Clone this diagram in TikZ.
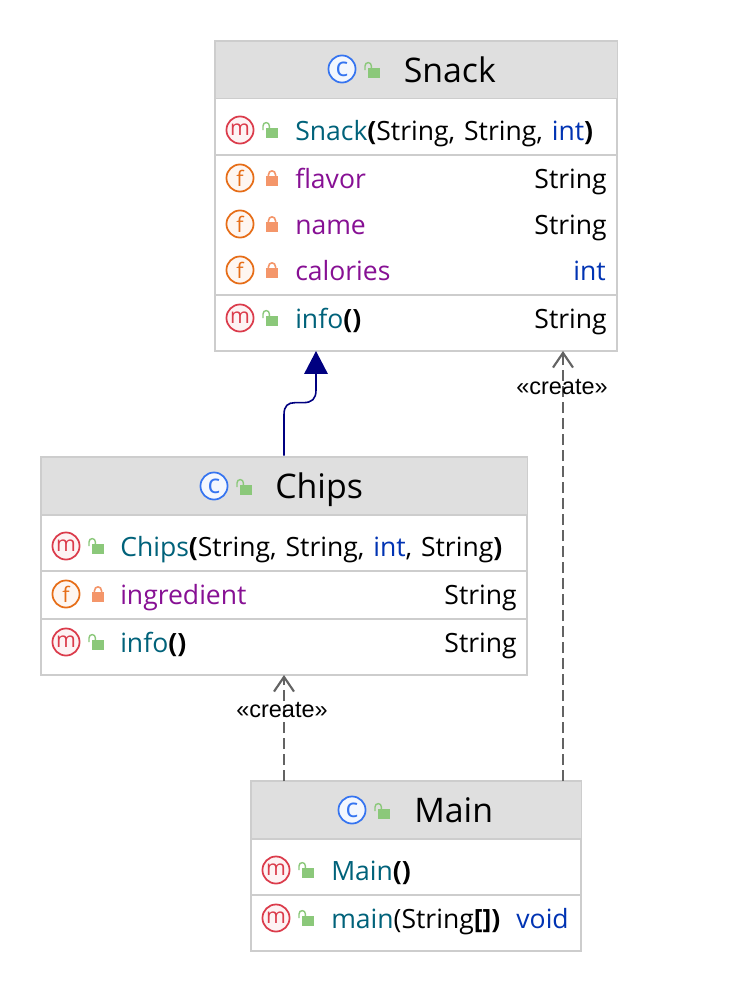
\documentclass[tikz,border=0pt]{standalone}
\usepackage{fontspec}
\setmainfont{Open Sans}
\newfontfamily\arialfont{Liberation Sans}
\usetikzlibrary{arrows.meta}
\definecolor{hdr}{HTML}{DFDFDF}
\definecolor{edgec}{HTML}{CDCDCD}
\definecolor{teal}{HTML}{00627A}
\definecolor{purp}{HTML}{871094}
\definecolor{kw}{HTML}{0033B3}
\definecolor{navy}{HTML}{000080}
\definecolor{grayl}{HTML}{636363}
\definecolor{cblue}{HTML}{3574F0}
\definecolor{mred}{HTML}{DB3B4B}
\definecolor{forange}{HTML}{E66D17}
\definecolor{lockg}{HTML}{8BC87A}
\definecolor{locko}{HTML}{F4966A}
\newcommand{\cs}{\hspace{1.5pt}}
\tikzset{
  classbox/.style={draw=edgec,line width=1.1pt,fill=white,minimum width=#1,inner sep=0pt,outer sep=0pt},
  sepline/.style={draw=edgec,line width=1.1pt},
  title/.style={anchor=base west,inner sep=0pt,font=\fontsize{25.4pt}{26pt}\selectfont},
  body/.style={anchor=base west,inner sep=0pt,font=\fontsize{19.9pt}{20pt}\selectfont},
  bodyr/.style={anchor=base east,inner sep=0pt,font=\fontsize{19.9pt}{20pt}\selectfont},
  iconc/.style={circle,draw=#1,fill=#1!6,line width=1.3pt,minimum size=20.3pt,inner sep=0pt,text=#1,font=\fontsize{16pt}{16pt}\selectfont},
  iconclass/.style={iconc=cblue,font=\fontsize{20pt}{20pt}\selectfont},
  inherit/.style={draw=navy,line width=1.2pt,-{Triangle[width=17.6pt,length=17.2pt,fill=navy]}},
  creates/.style={draw=grayl,line width=1.7pt,dash pattern=on 8.25pt off 3.75pt,-{Straight Barb[width=15pt,length=11pt,line width=1.6pt]}},
  stereo/.style={inner sep=0pt,text=black,font=\arialfont\fontsize{17.6pt}{18pt}\selectfont},
}
\newcommand{\lockopen}[2]{%
  \fill[lockg] (#1-4,#2-2) rectangle (#1+8,#2+8);
  \draw[lockg,line width=1.05pt] (#1-7,#2+0) -- (#1-7,#2-4) .. controls (#1-7,#2-8.5) and (#1-0.6,#2-8.5) .. (#1-0.6,#2-4) -- (#1-0.6,#2-2);
}
\newcommand{\lockshut}[2]{%
  \fill[locko] (#1-6,#2-2) rectangle (#1+6,#2+8);
  \draw[locko,line width=1.2pt] (#1-3.6,#2-2) -- (#1-3.6,#2-3) .. controls (#1-3.6,#2-8.5) and (#1+3.6,#2-8.5) .. (#1+3.6,#2-3) -- (#1+3.6,#2-2);
}
\begin{document}
\begin{tikzpicture}[x=0.75pt,y=-0.75pt]
\useasboundingbox (0,0) rectangle (738,992);
\fill[white] (0,0) rectangle (738,992);
% Snack
\node[classbox=301.5pt,minimum height=232.5pt] (snack) at (416,196) {};
\fill[hdr] (216,42) rectangle (616.5,98);
\draw[sepline] (215,98.5) -- (617,98.5);
\draw[sepline] (215,155) -- (617,155);
\draw[sepline] (215,295) -- (617,295);
\node[iconclass] (snackC) at (342,69) {c};
\lockopen{372}{70}
\node[title] (snackT) at (403.5,82.5) {Snack};
\node[iconc=mred] (snackM1) at (240,130) {m};
\lockopen{270}{130}
\node[body] (snackCtor) at (295,140) {\textcolor{teal}{Snack}\textbf{(}String,\cs{} String,\cs{} \textcolor{kw}{int}\textbf{)}};
\node[iconc=forange] (snackF1) at (240,178) {f};
\lockshut{272}{178}
\node[body,text=purp] (flavor) at (295,188) {flavor};
\node[bodyr] (flavorT) at (607,188) {String};
\node[iconc=forange] (snackF2) at (240,224) {f};
\lockshut{272}{224}
\node[body,text=purp] (nameF) at (295,234) {name};
\node[bodyr] (nameT) at (607,234) {String};
\node[iconc=forange] (snackF3) at (240,270) {f};
\lockshut{272}{270}
\node[body,text=purp] (calories) at (295,280) {calories};
\node[bodyr,text=kw] (caloriesT) at (606,280) {int};
\node[iconc=mred] (snackM2) at (240,318) {m};
\lockopen{270}{318}
\node[body] (snackInfo) at (295,328) {\textcolor{teal}{info}\textbf{()}};
\node[bodyr] (snackInfoT) at (607,328) {String};
% Chips
\node[classbox=364.5pt,minimum height=163.5pt] (chips) at (284,566) {};
\fill[hdr] (42,458) rectangle (526.5,515);
\draw[sepline] (41,515) -- (527,515);
\draw[sepline] (41,571) -- (527,571);
\draw[sepline] (41,619) -- (527,619);
\node[iconclass] (chipsC) at (214,486) {c};
\lockopen{244}{487}
\node[title] (chipsT) at (275,498.5) {Chips};
\node[iconc=mred] (chipsM1) at (66,546) {m};
\lockopen{96}{546}
\node[body] (chipsCtor) at (120,556) {\textcolor{teal}{Chips}\textbf{(}String,\cs{} String,\cs{} \textcolor{kw}{int},\cs{} String\textbf{)}};
\node[iconc=forange] (chipsF1) at (66,594) {f};
\lockshut{98}{594}
\node[body,text=purp] (ingredient) at (120,604) {ingredient};
\node[bodyr] (ingredientT) at (517,604) {String};
\node[iconc=mred] (chipsM2) at (66,642) {m};
\lockopen{96}{642}
\node[body] (chipsInfo) at (120,652) {\textcolor{teal}{info}\textbf{()}};
\node[bodyr] (chipsInfoT) at (517,652) {String};
% Main
\node[classbox=247.5pt,minimum height=127.5pt] (mainb) at (416,866) {};
\fill[hdr] (252,782) rectangle (580.5,839);
\draw[sepline] (251,839) -- (581,839);
\draw[sepline] (251,895) -- (581,895);
\node[iconclass] (mainC) at (352,810) {c};
\lockopen{382}{811}
\node[title] (mainT) at (414,822.5) {Main};
\node[iconc=mred] (mainM1) at (276,870) {m};
\lockopen{306}{870}
\node[body] (mainCtor) at (331,880) {\textcolor{teal}{Main}\textbf{()}};
\node[iconc=mred] (mainM2) at (276,918) {m};
\lockopen{306}{918}
\node[body] (mainMain) at (331,928) {\textcolor{teal}{main}(String\textbf{[])}};
\node[bodyr,text=kw] (mainVoid) at (569,928) {void};
% connectors
\draw[inherit] ([yshift=1pt]chips.north) -- ++(0,-41) .. controls +(0,-9) and +(-7,0) .. ++(11,-12)
  -- ++(8,0) .. controls +(9,0) and +(0,9) .. ([xshift=-75pt,yshift=-29.25pt]snack.south) -- ([xshift=-75pt]snack.south);
\draw[creates] (mainb.north -| chips.north) -- (chips.south);
\draw[creates] ([xshift=110.25pt]mainb.north) -- ([xshift=110.25pt]snack.south);
\node[stereo] (create1) at (282,710) {«create»};
\node[stereo] (create2) at (562,387) {«create»};
\end{tikzpicture}
\end{document}
